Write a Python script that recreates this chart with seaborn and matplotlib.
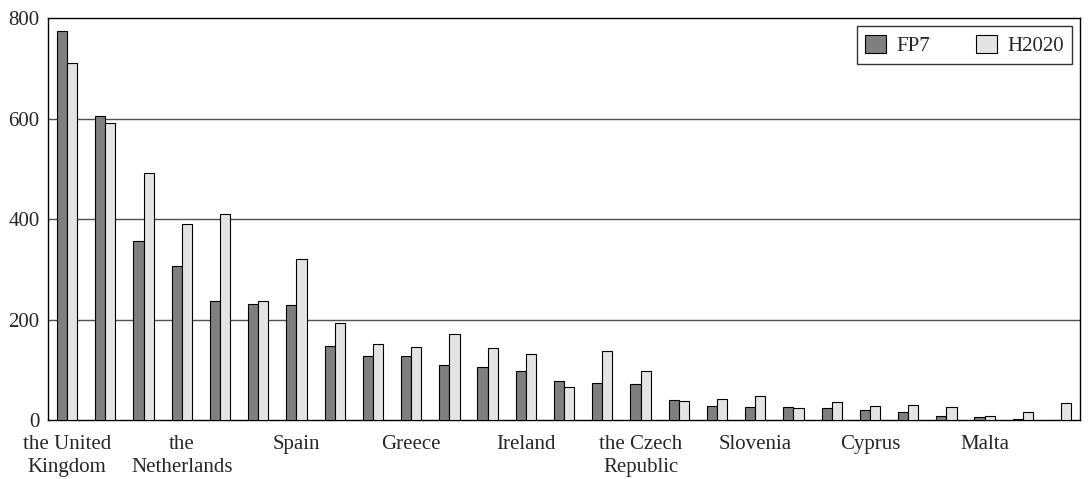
import pandas as pd
import numpy as np
import seaborn as sns
import matplotlib.pyplot as plt

# Participations per country, sorted by FP7
countries = ["the United Kingdom", "Germany", "Italy", "the Netherlands", "France",
             "Belgium", "Spain", "Sweden", "Denmark", "Greece", "Finland", "Austria",
             "Ireland", "Portugal", "Poland", "the Czech Republic", "Hungary", "Estonia",
             "Slovenia", "Luxembourg", "Romania", "Cyprus", "Bulgaria", "Lithuania",
             "Malta", "Latvia", "Croatia"]
fp7 = [775, 605, 357, 307, 238, 232, 230, 147, 127, 127, 109, 106, 97, 77, 73, 71,
       39, 28, 27, 26, 24, 21, 17, 9, 7, 2, 0]
h2020 = [710, 592, 492, 391, 410, 238, 320, 193, 152, 146, 171, 143, 131, 65, 138, 98,
         37, 42, 48, 25, 36, 29, 30, 27, 9, 17, 35]

# only every third country is labelled on the axis
label_every = 3
tick_labels = ["the United\nKingdom", "the\nNetherlands", "Spain", "Greece", "Ireland",
               "the Czech\nRepublic", "Slovenia", "Cyprus", "Malta"]

programmes = ["FP7", "H2020"]
colors = {"FP7": "#7f7f7f", "H2020": "#e4e4e4"}

df = pd.DataFrame({"country": countries, "FP7": fp7, "H2020": h2020})
df = df.melt(id_vars="country", var_name="programme", value_name="count")

sns.set_style("white")
plt.rcParams['font.family'] = ['Liberation Serif', 'DejaVu Serif']

fig, ax = plt.subplots(figsize=(10.9, 4.79), dpi=100)
fig.subplots_adjust(left=0.044, right=0.991, top=0.962, bottom=0.123)

sns.barplot(data=df, x="country", y="count", hue="programme", hue_order=programmes,
            palette=colors, order=countries, width=0.53, gap=0,
            edgecolor="black", linewidth=0.8, saturation=1, ax=ax, zorder=3)

ax.set_xlim(-0.5, len(countries) - 0.5)
ax.set_ylim(0, 800)
ax.set_yticks([0, 200, 400, 600, 800])
ax.tick_params(axis="y", labelsize=15, length=4, width=1, direction="inout", pad=4)
ax.set_xticks(range(0, len(countries), label_every))
ax.set_xticklabels(tick_labels, fontsize=15, linespacing=1.25)
ax.tick_params(axis="x", length=0, pad=11)
ax.set_xlabel("")
ax.set_ylabel("")

for y in [200, 400, 600]:
    ax.axhline(y, color="#505050", linewidth=1, zorder=1)

for s in ax.spines.values():
    s.set_visible(True)
    s.set_color("black")
    s.set_linewidth(1)

leg = ax.legend(loc="upper right", ncol=2, fontsize=15, frameon=True, fancybox=False,
                edgecolor="black", handlelength=1.0, handleheight=1.0,
                handletextpad=0.5, columnspacing=2.2, borderpad=0.4,
                borderaxespad=0, bbox_to_anchor=(0.992, 0.980))
leg.get_frame().set_linewidth(1)
leg.set_zorder(5)

plt.savefig("out.png", dpi=100)
plt.close()
